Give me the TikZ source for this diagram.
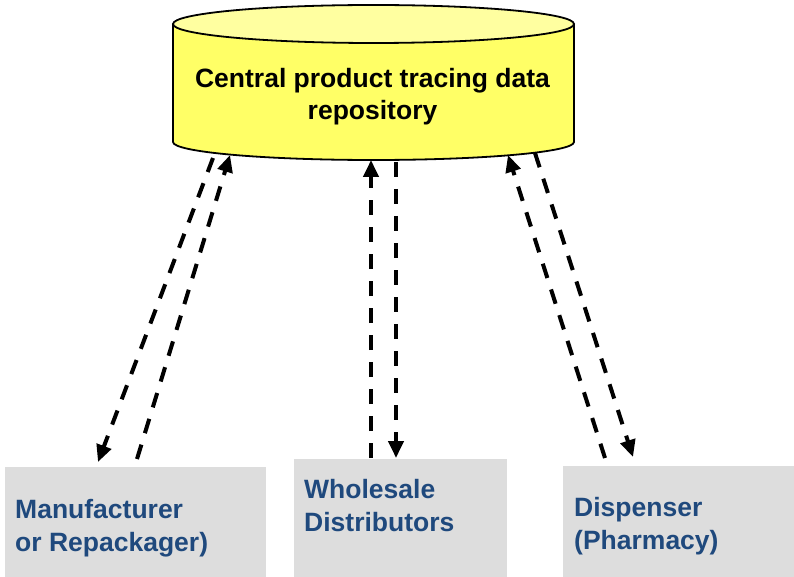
\documentclass[tikz,border=0pt]{standalone}
\usepackage{fontspec}
\setmainfont{Liberation Sans}
\usepackage{tikz}
\usetikzlibrary{arrows.meta,calc,positioning}
\definecolor{repofill}{RGB}{255,255,102}
\definecolor{repotop}{RGB}{255,255,160}
\definecolor{boxgray}{RGB}{221,221,221}
\definecolor{lblblue}{RGB}{31,73,125}

\begin{document}
\begin{tikzpicture}[x=1pt,y=1pt,
		box/.style={fill=boxgray, anchor=north west, inner sep=0pt}
		,lbl/.style={anchor=west, align=left, inner sep=0pt, text=lblblue, font=\fontsize{26.5}{33}\selectfont\bfseries}
		,flow/.style={line width=4pt, dash pattern=on 15pt off 12pt, -{Triangle[length=17pt,width=15pt]}}
		]
	\useasboundingbox (0,0) rectangle (794,-577);
	
	% repository cylinder
	\filldraw[fill=repofill, line width=1.8pt] (173,-24) -- (173,-142) arc[start angle=180, end angle=360, x radius=200.5pt, y radius=18pt] -- (574,-24);
	\filldraw[fill=repotop, line width=1.8pt] (373.5,-24) ellipse[x radius=200.5pt, y radius=19pt];
	\node[align=center, inner sep=0pt, font=\fontsize{26.5}{32}\selectfont\bfseries] (repo) at (372.5,-96.5) {Central product tracing data\\repository};
	
	\node[box, minimum width=261pt, minimum height=110pt] (mfr) at (5,-467) {};
	\node[box, minimum width=213pt, minimum height=118pt] (whs) at (294,-459) {};
	\node[box, minimum width=231pt, minimum height=111pt] (dsp) at (563,-466) {};
	\node[lbl] (mfrtxt) at (15,-528) {Manufacturer\\or Repackager)};
	\node[lbl] (whstxt) at (304,-505.5) {Wholesale\\Distributors};
	\node[lbl] (dsptxt) at (574,-526.5) {Dispenser\\(Pharmacy)};
	
	\coordinate (repoA) at (213,-158);
	\coordinate (repoB) at (230,-155);
	\coordinate (repoC) at (371,-160);
	\coordinate (repoD) at (396,-162);
	\coordinate (repoE) at (508,-155);
	\coordinate (repoF) at (535,-153);
	\coordinate (mfrA) at (98,-462);
	\coordinate (mfrB) at (137,-459);
	\coordinate (whsC) at (371,-458);
	\coordinate (whsD) at (396,-458);
	\coordinate (dspE) at (605,-458);
	\coordinate (dspF) at (633,-457);
	
	\draw[flow] (repoA) -- (mfrA);
	\draw[flow] (mfrB) -- (repoB);
	\draw[flow] (whsC) -- (repoC);
	\draw[flow] (repoD) -- (whsD);
	\draw[flow] (dspE) -- (repoE);
	\draw[flow] (repoF) -- (dspF);
\end{tikzpicture}
\end{document}
